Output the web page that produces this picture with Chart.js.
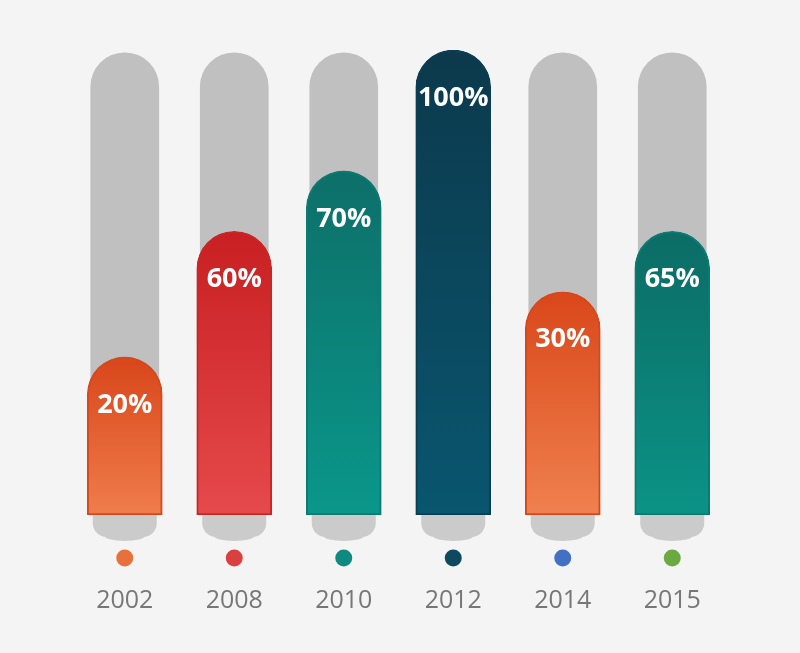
<!DOCTYPE html>
<html>
<head>
<meta charset="utf-8">
<script src="https://cdn.jsdelivr.net/npm/chart.js@4/dist/chart.umd.min.js"></script>
<style>
  html, body { margin: 0; padding: 0; background: #f4f4f4; }
  #wrap { width: 800px; height: 653px; }
</style>
</head>
<body>
<div id="wrap"><canvas id="myChart"></canvas></div>
<script>
(() => {
    'use strict';

    // data
    const years = ['2002', '2008', '2010', '2012', '2014', '2015'];
    const valueLabels = ['20%', '60%', '70%', '100%', '30%', '65%'];
    // drawn bar heights (share of full track)
    const barLevels = [34, 61, 74, 100, 48, 61];
    const trackLevels = [99.4, 99.4, 99.4, 99.4, 99.4, 99.4];

    const topColors = ['#d8461a', '#c81f22', '#0d6f69', '#0c394c', '#d9471a', '#0b6c65'];
    const bottomColors = ['#f07d4c', '#e64a4c', '#0a978a', '#09566f', '#f0814f', '#0b9386'];
    const edgeColors = ['#d5481c', '#c82626', '#0c7a70', '#0b3e52', '#d5481c', '#0c7a70'];
    const dotColors = ['#e8703a', '#db4040', '#0f8a80', '#0d4a60', '#4270c2', '#6aaa40'];

    const barFill = (context) => {
        const chart = context.chart;
        const area = chart.chartArea;
        if (!area) return topColors[context.dataIndex];
        const i = context.dataIndex;
        const yTop = chart.scales.y.getPixelForValue(barLevels[i]);
        const g = chart.ctx.createLinearGradient(0, yTop, 0, area.bottom);
        g.addColorStop(0, topColors[i]);
        g.addColorStop(1, bottomColors[i]);
        return g;
    };

    // shadow blobs, dots and labels inside bars
    const decor = {
        id: 'decor',
        beforeDatasetsDraw(chart) {
            const ctx = chart.ctx;
            const x = chart.scales.x;
            const bottom = chart.chartArea.bottom;
            ctx.save();
            ctx.fillStyle = '#cbcbcb';
            years.forEach((_, i) => {
                const cx = x.getPixelForValue(i);
                ctx.beginPath();
                ctx.roundRect(cx - 32, bottom - 4, 64, 26, [0, 0, 14, 14]);
                ctx.fill();
                ctx.beginPath();
                ctx.ellipse(cx, bottom + 21, 20, 5, 0, 0, Math.PI * 2);
                ctx.fill();
            });
            ctx.restore();
        },
        afterDatasetsDraw(chart) {
            const ctx = chart.ctx;
            const x = chart.scales.x;
            const bottom = chart.chartArea.bottom;
            const meta = chart.getDatasetMeta(0);
            ctx.save();
            years.forEach((_, i) => {
                const cx = x.getPixelForValue(i);
                ctx.fillStyle = dotColors[i];
                ctx.beginPath();
                ctx.arc(cx, bottom + 43, 8.5, 0, Math.PI * 2);
                ctx.fill();
            });
            ctx.fillStyle = '#ffffff';
            ctx.font = 'bold 27px "Open Sans", sans-serif';
            ctx.textAlign = 'center';
            ctx.textBaseline = 'middle';
            meta.data.forEach((bar, i) => {
                ctx.fillText(valueLabels[i], bar.x, bar.y + 48);
            });
            ctx.restore();
        }
    };

    const ctx = document.getElementById('myChart').getContext('2d');
    // eslint-disable-next-line no-unused-vars
    const myChart = new Chart(ctx, {
        type: 'bar',
        data: {
            labels: years,
            datasets: [{
                data: barLevels,
                backgroundColor: barFill,
                borderColor: edgeColors,
                borderWidth: 2,
                borderSkipped: false,
                borderRadius: { topLeft: 38, topRight: 38, bottomLeft: 0, bottomRight: 0 },
                barThickness: 75,
                grouped: false,
                order: 0
            }, {
                data: trackLevels,
                backgroundColor: '#c0c0c0',
                borderWidth: 0,
                borderRadius: { topLeft: 34, topRight: 34, bottomLeft: 0, bottomRight: 0 },
                barThickness: 68,
                grouped: false,
                order: 1
            }]
        },
        options: {
            responsive: true,
            maintainAspectRatio: false,
            animation: false,
            layout: {
                padding: { top: 50, left: 70, right: 73, bottom: 0 }
            },
            scales: {
                x: {
                    grid: { display: false },
                    border: { display: false },
                    ticks: {
                        color: '#777777',
                        padding: 63,
                        font: { family: '"Open Sans", sans-serif', size: 25 }
                    },
                    afterFit(scale) {
                        scale.height = 138;
                    }
                },
                y: {
                    display: false,
                    min: 0,
                    max: 100
                }
            },
            plugins: {
                legend: { display: false },
                tooltip: { enabled: false }
            }
        },
        plugins: [decor]
    });
})();
</script>
</body>
</html>
